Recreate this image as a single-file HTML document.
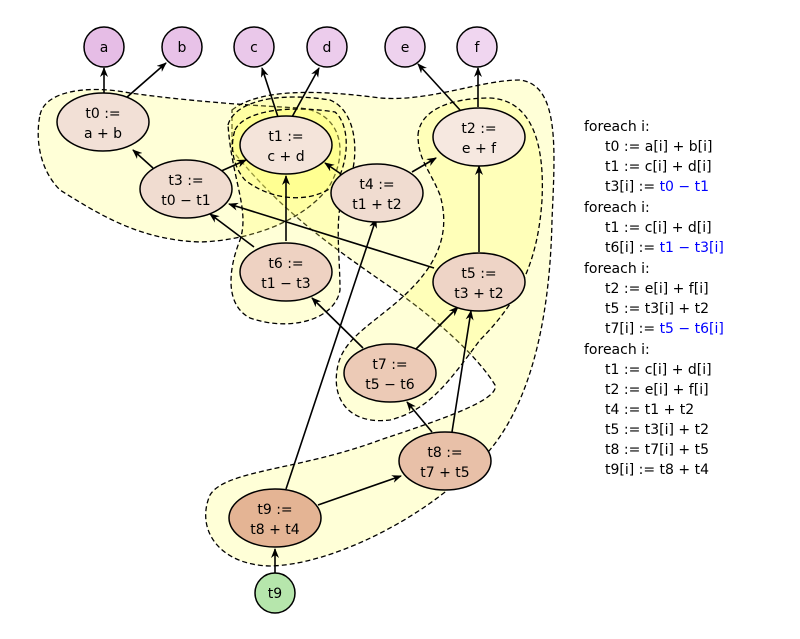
<!DOCTYPE html>
<html><head><meta charset="utf-8"><style>
html,body{margin:0;padding:0;background:#fff}
svg{display:block}
text{font-family:"DejaVu Sans","Liberation Sans",sans-serif;font-size:14px;fill:#000}
</style></head><body>
<svg width="800" height="639" viewBox="0 0 800 639" xmlns="http://www.w3.org/2000/svg">
<defs>
<marker id="ar" markerWidth="10" markerHeight="8" refX="9" refY="4" orient="auto" markerUnits="userSpaceOnUse">
<path d="M0,0 L10,4 L0,8 L3,4 Z" fill="#000"/></marker>
</defs>
<g fill="#ffff66" fill-opacity="0.26" stroke="#000" stroke-width="1.3" stroke-dasharray="5,3">
<!-- region 4 big -->
<path d="M232,110 C260,88 320,90 380,98 C430,102 480,80 520,80 C560,85 555,150 552,220 C550,320 530,420 470,470 C420,520 330,565 270,566 C220,565 195,530 210,495 C225,470 300,470 380,440 C440,420 500,400 495,385 C480,360 440,320 380,280 C330,245 280,210 232,150 Z"/>
<!-- region 1 t0,t1,t3 -->
<path d="M40,115 C45,90 90,85 130,93 C180,100 240,105 300,108 C340,112 350,150 330,185 C310,215 260,240 200,242 C140,240 100,215 60,190 C40,170 35,140 40,115 Z"/>
<!-- region 2 t1,t6 -->
<path d="M228,125 C235,100 280,92 330,100 C355,110 360,150 350,180 C332,205 340,250 340,290 C335,320 290,332 250,318 C225,305 228,270 240,240 C250,210 232,180 228,125 Z"/>
<path d="M235,130 C245,110 290,105 335,112 C350,125 350,160 335,185 C310,205 270,200 245,180 C232,165 230,145 235,130 Z"/>
<!-- region 3 t2,t5,t7 -->
<path d="M418,135 C420,110 450,98 490,98 C530,100 545,140 542,200 C538,260 520,300 480,340 C450,380 430,410 390,420 C350,425 330,400 338,365 C345,335 380,320 410,290 C440,260 450,230 440,195 C430,170 418,160 418,135 Z"/>
</g>
<g stroke="#000" stroke-width="1.6" fill="none" marker-end="url(#ar)">
<line x1="104" y1="93" x2="104" y2="68"/>
<line x1="126" y1="98" x2="166" y2="63"/>
<line x1="278" y1="117" x2="262" y2="68"/>
<line x1="292" y1="117" x2="319" y2="68"/>
<line x1="460" y1="110" x2="418" y2="64"/>
<line x1="478" y1="107" x2="478" y2="68"/>
<line x1="153" y1="168" x2="133" y2="150"/>
<line x1="219" y1="172" x2="246" y2="160"/>
<line x1="286" y1="241" x2="286" y2="176"/>
<line x1="341" y1="174" x2="325" y2="163"/>
<line x1="412" y1="172" x2="436" y2="158"/>
<line x1="479" y1="252" x2="479" y2="166"/>
<line x1="434" y1="268" x2="229" y2="204"/>
<line x1="254" y1="247" x2="210" y2="214"/>
<line x1="363" y1="348" x2="312" y2="298"/>
<line x1="415" y1="350" x2="458" y2="307"/>
<line x1="432" y1="432" x2="407" y2="402"/>
<line x1="452" y1="432" x2="471" y2="311"/>
<line x1="286" y1="489" x2="376" y2="219"/>
<line x1="318" y1="505" x2="401" y2="476"/>
<line x1="275" y1="573" x2="275" y2="549"/>
</g>
<g stroke="#000" stroke-width="1.5">
<circle cx="104" cy="47" r="20" fill="#e6bde6"/>
<circle cx="182" cy="47" r="20" fill="#e8c2e8"/>
<circle cx="254" cy="47" r="20" fill="#eac8ea"/>
<circle cx="327" cy="47" r="20" fill="#ecccec"/>
<circle cx="405" cy="47" r="20" fill="#eed2ee"/>
<circle cx="477" cy="47" r="20" fill="#f0d6f0"/>
<circle cx="275" cy="593" r="20" fill="#b6e6ac"/>
<ellipse cx="103" cy="122" rx="46" ry="29" fill="#f2e0d6"/>
<ellipse cx="286" cy="145" rx="46" ry="29" fill="#f4e4da"/>
<ellipse cx="479" cy="137" rx="46" ry="29" fill="#f6e8e0"/>
<ellipse cx="186" cy="189" rx="46" ry="29" fill="#f0dcd0"/>
<ellipse cx="377" cy="193" rx="46" ry="29" fill="#f0dcd0"/>
<ellipse cx="479" cy="282" rx="46" ry="29" fill="#eed4c6"/>
<ellipse cx="286" cy="272" rx="46" ry="29" fill="#eed2c2"/>
<ellipse cx="390" cy="373" rx="46" ry="29" fill="#eccab6"/>
<ellipse cx="445" cy="461" rx="46" ry="29" fill="#e8c0a8"/>
<ellipse cx="275" cy="518" rx="46" ry="29" fill="#e4b494"/>
</g>
<g text-anchor="middle">
<text x="104" y="52">a</text><text x="182" y="52">b</text><text x="254" y="52">c</text>
<text x="327" y="52">d</text><text x="405" y="52">e</text><text x="477" y="52">f</text>
<text x="275" y="598">t9</text>
<text x="103" y="118">t0 :=</text><text x="103" y="138">a + b</text>
<text x="286" y="141">t1 :=</text><text x="286" y="161">c + d</text>
<text x="479" y="133">t2 :=</text><text x="479" y="153">e + f</text>
<text x="186" y="185">t3 :=</text><text x="186" y="205">t0 − t1</text>
<text x="377" y="189">t4 :=</text><text x="377" y="209">t1 + t2</text>
<text x="479" y="278">t5 :=</text><text x="479" y="298">t3 + t2</text>
<text x="286" y="268">t6 :=</text><text x="286" y="288">t1 − t3</text>
<text x="390" y="369">t7 :=</text><text x="390" y="389">t5 − t6</text>
<text x="445" y="457">t8 :=</text><text x="445" y="477">t7 + t5</text>
<text x="275" y="514">t9 :=</text><text x="275" y="534">t8 + t4</text>
</g>
<g>
<text x="584" y="131">foreach i:</text>
<text x="605" y="151">t0 := a[i] + b[i]</text>
<text x="605" y="171">t1 := c[i] + d[i]</text>
<text x="605" y="191">t3[i] := <tspan fill="#0000ff">t0 − t1</tspan></text>
<text x="584" y="212">foreach i:</text>
<text x="605" y="232">t1 := c[i] + d[i]</text>
<text x="605" y="252">t6[i] := <tspan fill="#0000ff">t1 − t3[i]</tspan></text>
<text x="584" y="273">foreach i:</text>
<text x="605" y="293">t2 := e[i] + f[i]</text>
<text x="605" y="313">t5 := t3[i] + t2</text>
<text x="605" y="333">t7[i] := <tspan fill="#0000ff">t5 − t6[i]</tspan></text>
<text x="584" y="354">foreach i:</text>
<text x="605" y="374">t1 := c[i] + d[i]</text>
<text x="605" y="394">t2 := e[i] + f[i]</text>
<text x="605" y="414">t4 := t1 + t2</text>
<text x="605" y="434">t5 := t3[i] + t2</text>
<text x="605" y="454">t8 := t7[i] + t5</text>
<text x="605" y="474">t9[i] := t8 + t4</text>
</g>
</svg>
</body></html>
